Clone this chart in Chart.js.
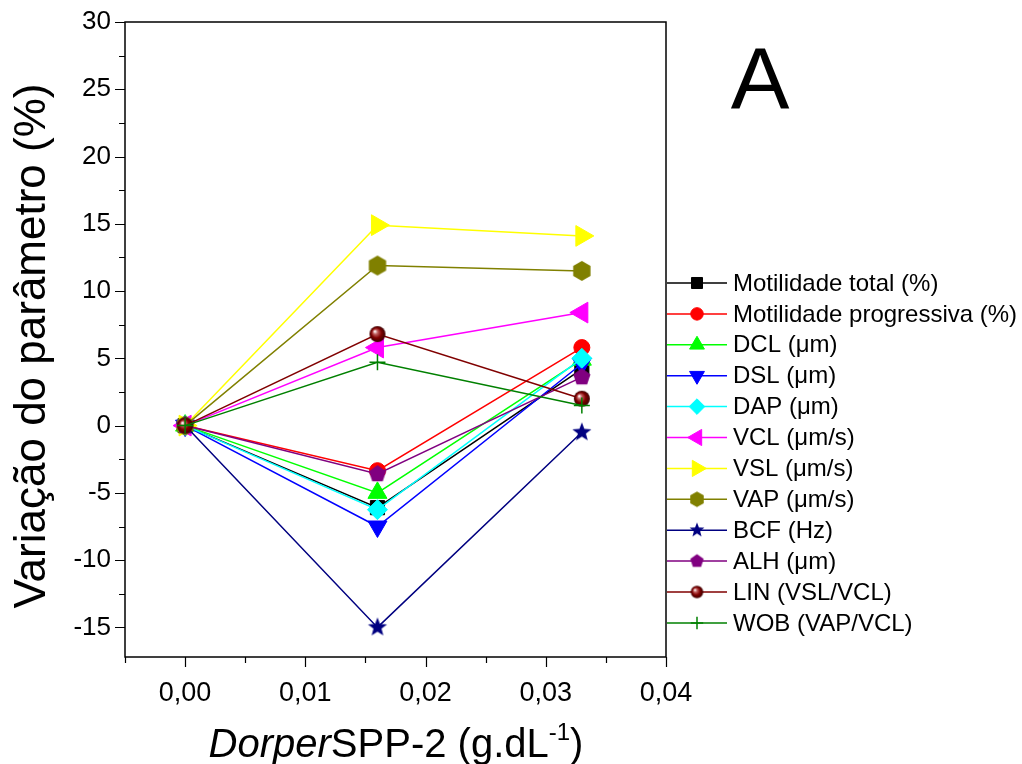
<!DOCTYPE html>
<html>
<head>
<meta charset="utf-8">
<script src="https://cdn.jsdelivr.net/npm/chart.js@4.4.1/dist/chart.umd.min.js"></script>
<style>
  body { margin: 0; background: #fff; }
</style>
</head>
<body>
<canvas id="chart" width="1022" height="764"></canvas>
<script>
// doses (g.dL-1)
const doses = [0, 0.016, 0.033];

const seriesNames = [
  'Motilidade total (%)', 'Motilidade progressiva (%)', 'DCL (\u03bcm)', 'DSL (\u03bcm)',
  'DAP (\u03bcm)', 'VCL (\u03bcm/s)', 'VSL (\u03bcm/s)', 'VAP (\u03bcm/s)',
  'BCF (Hz)', 'ALH (\u03bcm)', 'LIN (VSL/VCL)', 'WOB (VAP/VCL)'
];

// variação (%) em cada dose
const motTotal = [0, -6.1, 4.2];
const motProg  = [0, -3.35, 5.8];
const dcl      = [0, -5.0, 4.9];
const dsl      = [0, -7.5, 4.6];
const dap      = [0, -6.25, 5.0];
const vcl      = [0, 5.8, 8.4];
const vsl      = [0, 14.9, 14.1];
const vap      = [0, 11.9, 11.5];
const bcf      = [0, -15.0, -0.5];
const alh      = [0, -3.6, 3.6];
const lin      = [0, 6.8, 2.0];
const wob      = [0, 4.7, 1.5];

const seriesValues = [motTotal, motProg, dcl, dsl, dap, vcl, vsl, vap, bcf, alh, lin, wob];

const xTicks = [0, 0.01, 0.02, 0.03, 0.04];
const xMinorTicks = [-0.005, 0.005, 0.015, 0.025, 0.035];
const yTicks = [-15, -10, -5, 0, 5, 10, 15, 20, 25, 30];
const yMinorTicks = [-12.5, -7.5, -2.5, 2.5, 7.5, 12.5, 17.5, 22.5, 27.5];

const FONT = '"Liberation Sans", Arial, sans-serif';

// marcadores desenhados à mão (hexágono, estrela, pentágono, esfera)
function makeMarker(kind, color, r) {
  const c = document.createElement('canvas');
  const s = Math.ceil(r * 2 + 4);
  c.width = s; c.height = s;
  const g = c.getContext('2d');
  const cx = s / 2, cy = s / 2;
  g.fillStyle = color;
  g.strokeStyle = color;
  g.beginPath();
  if (kind === 'hexagon' || kind === 'pentagon') {
    const n = kind === 'hexagon' ? 6 : 5;
    for (let i = 0; i < n; i++) {
      const a = -Math.PI / 2 + i * 2 * Math.PI / n;
      g.lineTo(cx + r * Math.cos(a), cy + r * Math.sin(a));
    }
    g.closePath();
    g.fill();
  } else if (kind === 'star') {
    for (let i = 0; i < 10; i++) {
      const rr = i % 2 === 0 ? r : r * 0.42;
      const a = -Math.PI / 2 + i * Math.PI / 5;
      g.lineTo(cx + rr * Math.cos(a), cy + rr * Math.sin(a));
    }
    g.closePath();
    g.fill();
  } else if (kind === 'sphere') {
    const grad = g.createRadialGradient(cx - r * 0.35, cy - r * 0.35, r * 0.05, cx, cy, r);
    grad.addColorStop(0, '#ffffff');
    grad.addColorStop(0.25, '#c06060');
    grad.addColorStop(0.6, '#800000');
    grad.addColorStop(1, '#3a0000');
    g.fillStyle = grad;
    g.arc(cx, cy, r, 0, Math.PI * 2);
    g.fill();
  }
  return c;
}

const styles = [
  { color: '#000000', pointStyle: 'rect', radius: 10 },
  { color: '#ff0000', pointStyle: 'circle', radius: 8 },
  { color: '#00ff00', pointStyle: 'triangle', radius: 11 },
  { color: '#0000ff', pointStyle: 'triangle', rotation: 180, radius: 11 },
  { color: '#00ffff', pointStyle: 'rectRot', radius: 10 },
  { color: '#ff00ff', pointStyle: 'triangle', rotation: 270, radius: 12 },
  { color: '#ffff00', pointStyle: 'triangle', rotation: 90, radius: 12 },
  { color: '#808000', custom: 'hexagon', radius: 10 },
  { color: '#000080', custom: 'star', radius: 10 },
  { color: '#800080', custom: 'pentagon', radius: 9 },
  { color: '#800000', custom: 'sphere', radius: 8 },
  { color: '#008000', pointStyle: 'cross', radius: 8 }
];

const LEGEND_SCALE = 0.78;
styles.forEach(s => {
  if (s.custom) {
    s.pointStyle = makeMarker(s.custom, s.color, s.radius);
    s.legendStyle = makeMarker(s.custom, s.color, s.radius * LEGEND_SCALE);
  } else {
    s.legendStyle = s.pointStyle;
  }
});

const datasets = seriesValues.map((vals, i) => {
  const st = styles[i];
  return {
    label: seriesNames[i],
    data: doses.map((d, k) => ({ x: d, y: vals[k] })),
    showLine: true,
    borderColor: st.color,
    backgroundColor: st.color,
    borderWidth: 1.5,
    pointStyle: st.pointStyle,
    pointRotation: st.rotation || 0,
    pointRadius: st.radius,
    pointHoverRadius: st.radius,
    pointBorderColor: st.color,
    pointBackgroundColor: st.color,
    pointBorderWidth: st.pointStyle === 'cross' ? 1.5 : 1,
    tension: 0,
    order: -i,
    clip: false
  };
});

// moldura, ticks, legenda e títulos
const decor = {
  id: 'decor',
  afterDraw(chart) {
    const { ctx, chartArea: a, scales: { x, y } } = chart;
    ctx.save();
    ctx.strokeStyle = '#000';
    ctx.lineWidth = 1.5;
    ctx.strokeRect(a.left, a.top, a.right - a.left, a.bottom - a.top);

    ctx.lineWidth = 1.2;
    ctx.beginPath();
    yTicks.forEach(v => { const p = Math.round(y.getPixelForValue(v)) + 0.5; ctx.moveTo(a.left, p); ctx.lineTo(a.left - 10, p); });
    yMinorTicks.forEach(v => { const p = Math.round(y.getPixelForValue(v)) + 0.5; ctx.moveTo(a.left, p); ctx.lineTo(a.left - 6, p); });
    xTicks.forEach(v => { const p = Math.round(x.getPixelForValue(v)) + 0.5; ctx.moveTo(p, a.bottom); ctx.lineTo(p, a.bottom + 10); });
    xMinorTicks.forEach(v => { const p = Math.round(x.getPixelForValue(v)) + 0.5; ctx.moveTo(p, a.bottom); ctx.lineTo(p, a.bottom + 6); });
    ctx.stroke();

    // legenda
    const lx0 = 667, lx1 = 727, mx = 697, tx = 733, ly0 = 283, dy = 30.9;
    ctx.font = '24px ' + FONT;
    ctx.textBaseline = 'middle';
    ctx.textAlign = 'left';
    chart.data.datasets.forEach((ds, i) => {
      const st = styles[i];
      const yy = ly0 + i * dy;
      ctx.strokeStyle = st.color;
      ctx.lineWidth = 1.5;
      ctx.beginPath();
      ctx.moveTo(lx0, yy);
      ctx.lineTo(lx1, yy);
      ctx.stroke();
      ctx.fillStyle = st.color;
      ctx.strokeStyle = st.color;
      ctx.lineWidth = st.pointStyle === 'cross' ? 1.5 : 1;
      Chart.helpers.drawPoint(ctx, {
        pointStyle: st.legendStyle,
        radius: st.radius * LEGEND_SCALE,
        rotation: st.rotation || 0,
        borderWidth: ctx.lineWidth
      }, mx, yy);
      ctx.fillStyle = '#000';
      ctx.fillText(ds.label, tx, yy + 1);
    });

    // letra do painel
    ctx.fillStyle = '#000';
    ctx.font = '88px ' + FONT;
    ctx.textAlign = 'center';
    ctx.textBaseline = 'alphabetic';
    ctx.fillText('A', 760, 109);

    // título do eixo y
    ctx.save();
    ctx.translate(45, 346);
    ctx.rotate(-Math.PI / 2);
    ctx.font = '44px ' + FONT;
    ctx.textAlign = 'center';
    ctx.textBaseline = 'alphabetic';
    ctx.fillText('Varia\u00e7\u00e3o do par\u00e2metro (%)', 0, 0);
    ctx.restore();

    // título do eixo x
    const parts = [
      { t: 'Dorper', f: 'italic 40px ' + FONT, dy: 0 },
      { t: 'SPP-2 (g.dL', f: '40px ' + FONT, dy: 0 },
      { t: '-1', f: '24px ' + FONT, dy: -17 },
      { t: ')', f: '40px ' + FONT, dy: 0 }
    ];
    let total = 0;
    parts.forEach(p => { ctx.font = p.f; p.w = ctx.measureText(p.t).width; total += p.w; });
    let cx = 396 - total / 2;
    ctx.textAlign = 'left';
    parts.forEach(p => { ctx.font = p.f; ctx.fillText(p.t, cx, 757 + p.dy); cx += p.w; });
    ctx.restore();
  }
};

new Chart(document.getElementById('chart'), {
  type: 'scatter',
  data: { datasets },
  options: {
    responsive: false,
    animation: false,
    devicePixelRatio: 1,
    layout: { padding: { left: 0, top: 22, right: 356, bottom: 0 } },
    plugins: { legend: { display: false }, tooltip: { enabled: false } },
    scales: {
      x: {
        type: 'linear',
        min: -0.005,
        max: 0.04,
        grid: { display: false },
        border: { display: false },
        afterFit: s => { s.height = 107; },
        afterBuildTicks: s => { s.ticks = xTicks.map(v => ({ value: v })); },
        ticks: {
          padding: 12,
          color: '#000',
          font: { family: FONT, size: 27 },
          maxRotation: 0,
          callback: v => v.toFixed(2).replace('.', ',')
        }
      },
      y: {
        type: 'linear',
        min: -17.2,
        max: 30,
        grid: { display: false },
        border: { display: false },
        afterFit: s => { s.width = 125; },
        afterBuildTicks: s => { s.ticks = yTicks.map(v => ({ value: v })); },
        ticks: {
          padding: 6,
          color: '#000',
          font: { family: FONT, size: 26 },
          callback: v => String(v)
        }
      }
    }
  },
  plugins: [decor]
});
</script>
</body>
</html>
